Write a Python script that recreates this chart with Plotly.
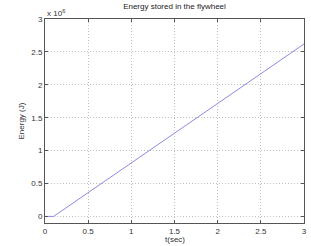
import plotly.graph_objects as go

t_sec = [0.0, 0.1, 3.0]
energy_J = [0.0, 0.0, 2.62e6]

x_ticks = [0, 0.5, 1, 1.5, 2, 2.5, 3]
x_labels = ["0", "0.5", "1", "1.5", "2", "2.5", "3"]
y_ticks = [0, 0.5e6, 1e6, 1.5e6, 2e6, 2.5e6, 3e6]
y_labels = ["0", "0.5", "1", "1.5", "2", "2.5", "3"]

font = dict(family="Liberation Sans, Arial, sans-serif", size=8, color="#333333")

fig = go.Figure()
fig.add_trace(go.Scatter(x=t_sec, y=energy_J, mode="lines",
                         line=dict(color="#8a8ae0", width=1), showlegend=False))

axis_common = dict(showline=True, linecolor="#555555", linewidth=1, mirror="allticks",
                   ticks="inside", ticklen=3, tickcolor="#555555",
                   showgrid=True, gridcolor="#c0c0c0", griddash="1px,2px", gridwidth=1,
                   zeroline=False, tickfont=font, automargin=False,
                   ticklabeloverflow="allow")

fig.update_xaxes(range=[0, 3], tickvals=x_ticks, ticktext=x_labels, **axis_common)
fig.update_yaxes(range=[-1e5, 3e6], tickvals=y_ticks, ticktext=y_labels, **axis_common)

fig.update_layout(
    width=311, height=246,
    margin=dict(l=45, r=7, t=19, b=23),
    paper_bgcolor="white", plot_bgcolor="white",
    font=font,
    title=dict(text="Energy stored in the flywheel", xref="paper", x=0.5, xanchor="center",
               y=0.985, yanchor="top", font=dict(family=font["family"], size=8, color="#222222")),
)
fig.add_annotation(text="x 10<sup>6</sup>", xref="paper", yref="paper", x=0, y=1,
                   xanchor="left", yanchor="bottom", showarrow=False, font=font, yshift=-1)
fig.add_annotation(text="t(sec)", xref="paper", yref="paper", x=0.5, y=0,
                   xanchor="center", yanchor="top", showarrow=False, font=font, yshift=-10)
fig.add_annotation(text="Energy (J)", xref="paper", yref="paper", x=0, y=0.5, textangle=-90,
                   xanchor="right", yanchor="middle", showarrow=False, font=font, xshift=-18)

fig.write_html("out.html", config={"displayModeBar": False},
               post_script="document.body.style.margin='0';document.body.style.overflow='hidden';")
